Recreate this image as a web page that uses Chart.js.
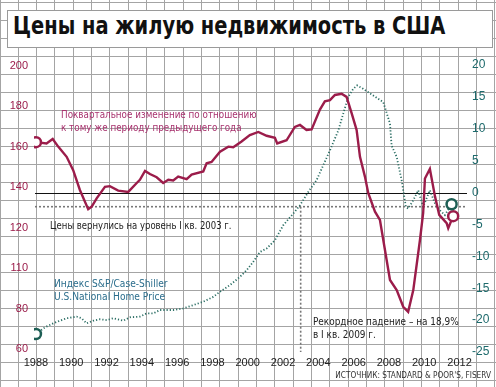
<!DOCTYPE html>
<html>
<head>
<meta charset="utf-8">
<script src="https://cdn.jsdelivr.net/npm/chart.js@4.4.1/dist/chart.umd.min.js"></script>
<style>
  body { margin: 0; background: #fff; }
  #wrap { position: relative; width: 496px; height: 387px; overflow: hidden; }
  #title {
    position: absolute; left: 7px; top: 10px; width: 486px; height: 38px;
    background: #fff; border: 1px solid #9a9a9a; box-sizing: border-box;
    overflow: hidden;
  }
  #title span {
    position: absolute; left: 5px; top: 1px; line-height: 34px;
    font: bold 24px 'DejaVu Sans Condensed', sans-serif; color: #111;
    white-space: nowrap; transform: scaleX(0.9); transform-origin: left top;
  }
  .note {
    position: absolute; white-space: nowrap;
    font: 11px 'DejaVu Sans Condensed', sans-serif;
    line-height: 12.5px; transform-origin: left top;
  }
</style>
</head>
<body>
<div id="wrap">
  <canvas id="myChart" width="496" height="387"></canvas>
  <div id="title"><span>Цены на жилую недвижимость в США</span></div>
  <div class="note" style="left:61px;top:109px;color:#a8326e;transform:scaleX(0.89)">Поквартальное изменение по отношению<br>к тому же периоду предыдущего года</div>
  <div class="note" style="left:50px;top:220px;color:#222;transform:scaleX(0.86)">Цены вернулись на уровень I кв. 2003 г.</div>
  <div class="note" style="left:54px;top:278px;color:#2a6d8c;transform:scaleX(0.92)">Индекс S&amp;P/Case-Shiller<br>U.S.National Home Price</div>
  <div class="note" style="left:313px;top:316px;color:#222;transform:scaleX(0.9)">Рекордное падение – на 18,9%<br>в I кв. 2009 г.</div>
  <div class="note" style="right:5px;top:370px;color:#333;font-size:9.5px;line-height:10px;transform:scaleX(0.86);transform-origin:right top">ИСТОЧНИК: STANDARD &amp; POOR'S, FISERV</div>
</div>
<script>
// индекс S&P/Case-Shiller (левая шкала)
const idxYears = [1988, 1988.51, 1988.98, 1989.36, 1989.74, 1990.31, 1990.59, 1990.87, 1991.25, 1991.63,
  1992.01, 1992.38, 1992.95, 1993.33, 1993.89, 1994.27, 1994.65, 1995.03, 1995.78, 1996.35,
  1996.91, 1997.48, 1998.05, 1998.42, 1998.99, 1999.56, 1999.94, 2000.31, 2000.69, 2001.07,
  2001.54, 2002.01, 2002.58, 2002.96, 2003.43, 2003.9, 2004.19, 2004.66, 2005.13, 2005.41,
  2005.69, 2005.98, 2006.2, 2006.54, 2007.11, 2007.68, 2008.06, 2008.15, 2008.44, 2008.72,
  2008.96, 2009.09, 2009.38, 2009.66, 2009.94, 2010.32, 2010.61, 2010.89, 2011.17, 2011.55]
const idxValues = [67.4, 70.7, 72.7, 74.0, 75.2, 76.0, 75.2, 72.7, 74.0, 74.7,
  74.3, 75.2, 74.0, 75.7, 76.0, 77.6, 77.6, 79.3, 79.3, 80.1,
  81.7, 83.4, 85.8, 88.3, 91.6, 95.7, 99.0, 103.1, 108.0, 109.7,
  113.8, 121.2, 127.0, 131.1, 137.7, 143.5, 149.2, 158.3, 168.1, 176.4,
  184.6, 188.7, 190.4, 188.7, 185.4, 182.1, 171.5, 160.7, 155.0, 143.5,
  130.3, 129.5, 133.6, 138.5, 130.3, 138.5, 132.0, 128.6, 126.2, 131.6]

// изменение к тому же периоду предыдущего года, % (правая шкала)
const chgYears = [1988, 1988.6, 1988.95, 1989.26, 1989.74, 1990.11, 1990.49, 1990.96, 1991.16, 1991.44,
  1991.91, 1992.19, 1992.66, 1993.23, 1993.71, 1993.89, 1994.18, 1994.46, 1994.84, 1995.21,
  1995.5, 1995.78, 1996.06, 1996.54, 1996.82, 1997.48, 1997.67, 1997.95, 1998.43, 1998.9,
  1999.18, 1999.65, 2000.12, 2000.6, 2001.07, 2001.54, 2001.67, 2002.2, 2002.67, 2002.96,
  2003.33, 2003.62, 2004.09, 2004.37, 2004.66, 2004.94, 2005.32, 2005.6, 2005.89, 2006.17,
  2006.36, 2006.64, 2006.83, 2007.21, 2007.49, 2008.06, 2008.44, 2008.81, 2009.09, 2009.38,
  2009.76, 2009.94, 2010.04, 2010.32, 2010.61, 2010.85, 2011.27, 2011.36, 2011.64]
const chgValues = [7.9, 7.7, 8.4, 7.2, 5.6, 3.5, 0.4, -2.6, -2.2, -0.9,
  0.9, 1.0, 0.3, 0.1, 1.5, 2.0, 3.4, 2.9, 2.4, 1.5,
  2.0, 1.9, 2.5, 2.1, 2.8, 3.3, 4.6, 4.8, 6.4, 7.2,
  7.1, 8.0, 9.0, 9.5, 8.9, 8.6, 7.7, 8.2, 10.3, 10.6,
  9.8, 9.9, 13.0, 14.3, 14.5, 15.3, 15.5, 15.0, 12.4, 9.8,
  5.6, 2.5, -0.1, -3.0, -4.3, -13.7, -15.3, -17.9, -18.7, -15.3,
  -7.4, -3.2, 2.2, 3.7, -0.6, -3.5, -4.8, -5.6, -3.7]

const yearTicks = [1988, 1990, 1992, 1994, 1996, 1998, 2000, 2002, 2004, 2006, 2008, 2010, 2012]
const leftTickValues = [60, 80, 100, 120, 140, 160, 180, 200]
const leftTickLabels = ['60', '80', '110', '120', '140', '160', '180', '200']
const rightTickValues = [-25, -20, -15, -10, -5, 0, 5, 10, 15, 20]

const refLevel = 130.4   // уровень I кв. 2003 г.
const refYear = 2003

const crimson = '#9b1c4a'
const teal = '#2b6e64'

function pts(xs, ys) {
    return xs.map((x, i) => ({ x: x, y: ys[i] }))
}
function ends(xs, ys) {
    const n = xs.length - 1
    return [{ x: xs[0], y: ys[0] }, { x: xs[n], y: ys[n] }]
}

const graphPaper = {
    id: 'graphPaper',
    beforeDraw(chart) {
        const c = chart.ctx
        c.save()
        c.strokeStyle = '#a4a4a4'
        c.lineWidth = 1
        c.beginPath()
        for (let x = -0.5; x < chart.width; x += 18.33) {
            const px = Math.round(x) + 0.5
            c.moveTo(px, 0); c.lineTo(px, chart.height)
        }
        for (let y = 2; y < chart.height; y += 18) {
            c.moveTo(0, y + 0.5); c.lineTo(chart.width, y + 0.5)
        }
        c.stroke()
        c.restore()
    }
}

const refLines = {
    id: 'refLines',
    beforeDatasetsDraw(chart) {
        const c = chart.ctx
        const a = chart.chartArea
        const sx = chart.scales.x, sl = chart.scales.yL, sr = chart.scales.yR
        c.save()
        // ноль правой шкалы
        const y0 = Math.round(sr.getPixelForValue(0)) + 0.5
        c.strokeStyle = '#111'
        c.lineWidth = 1.2
        c.beginPath(); c.moveTo(a.left + 1, y0); c.lineTo(a.right - 1, y0); c.stroke()
        // уровень I кв. 2003
        const yr = sl.getPixelForValue(refLevel)
        const xr = sx.getPixelForValue(refYear)
        c.strokeStyle = '#777'
        c.lineWidth = 1.6
        c.setLineDash([2, 2])
        c.beginPath(); c.moveTo(a.left + 1, yr); c.lineTo(a.right - 1, yr); c.stroke()
        c.beginPath(); c.moveTo(xr, yr); c.lineTo(xr, a.bottom); c.stroke()
        c.restore()
    }
}

new Chart(document.getElementById('myChart'), {
    type: 'line',
    data: {
        datasets: [
            {
                data: ends(idxYears, idxValues),
                yAxisID: 'yL',
                showLine: false,
                pointRadius: 5,
                pointBorderWidth: 2.5,
                pointBorderColor: '#1d5e54',
                pointBackgroundColor: '#fff',
                order: 0
            },
            {
                data: ends(chgYears, chgValues),
                yAxisID: 'yR',
                showLine: false,
                pointRadius: 5,
                pointBorderWidth: 2.5,
                pointBorderColor: crimson,
                pointBackgroundColor: '#fff',
                order: 0
            },
            {
                data: pts(chgYears, chgValues),
                yAxisID: 'yR',
                borderColor: crimson,
                borderWidth: 2.4,
                pointRadius: 0,
                tension: 0,
                order: 1
            },
            {
                data: pts(idxYears, idxValues),
                yAxisID: 'yL',
                borderColor: teal,
                borderWidth: 1.8,
                borderDash: [1.2, 2],
                pointRadius: 0,
                tension: 0,
                order: 2
            }
        ]
    },
    options: {
        responsive: false,
        animation: false,
        layout: { padding: { top: 65, left: 0, right: 0, bottom: 0 } },
        plugins: {
            legend: { display: false },
            tooltip: { enabled: false }
        },
        scales: {
            x: {
                type: 'linear',
                min: 1987.89,
                max: 2012.48,
                afterBuildTicks: s => { s.ticks = yearTicks.map(v => ({ value: v })) },
                afterFit: s => { s.height = 35 },
                grid: { display: false, drawTicks: false },
                border: { display: false },
                ticks: {
                    autoSkip: false,
                    maxRotation: 0,
                    padding: 4,
                    color: '#222',
                    font: { family: 'Liberation Sans', size: 11 },
                    callback: v => String(v)
                }
            },
            yL: {
                position: 'left',
                min: 58.516,
                max: 200.495,
                afterBuildTicks: s => { s.ticks = leftTickValues.map(v => ({ value: v })) },
                afterFit: s => { s.width = 34 },
                grid: { display: false, drawTicks: false },
                border: { display: false },
                ticks: {
                    padding: 6,
                    color: crimson,
                    font: { family: 'Liberation Sans', size: 11 },
                    callback: v => leftTickLabels[leftTickValues.indexOf(v)]
                }
            },
            yR: {
                position: 'right',
                min: -25,
                max: 20,
                afterBuildTicks: s => { s.ticks = rightTickValues.map(v => ({ value: v })) },
                afterFit: s => { s.width = 28 },
                grid: { display: false, drawTicks: false },
                border: { display: false },
                ticks: {
                    padding: 4,
                    color: '#1d6a6c',
                    font: { family: 'Liberation Sans', size: 12 }
                }
            }
        }
    },
    plugins: [graphPaper, refLines]
})
</script>
</body>
</html>
